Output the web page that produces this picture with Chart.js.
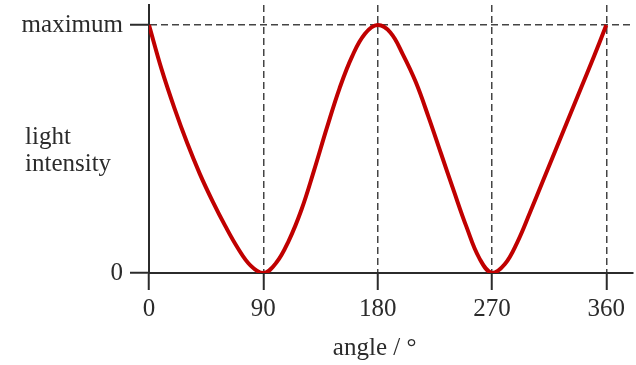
<!DOCTYPE html>
<html>
<head>
<meta charset="utf-8">
<script src="https://cdn.jsdelivr.net/npm/chart.js@4.4.1/dist/chart.umd.min.js"></script>
<style>
	html, body { margin: 0; padding: 0; background: #fff; }
	#wrap { width: 636px; height: 365px; position: relative; }
</style>
</head>
<body>
<div id="wrap"><canvas id="chart"></canvas></div>
<script>
	'use strict';

	// angle in degrees, intensity (1 = maximum)
	var angles = [0, 10, 20, 30, 40, 50, 60, 70, 80, 90,
		100, 110, 120, 130, 140, 150, 160, 170, 180,
		190, 200, 210, 220, 230, 240, 250, 260, 270,
		280, 290, 300, 310, 320, 330, 340, 350, 360];
	var intensity = [1.00, 0.82, 0.665, 0.525, 0.40, 0.29, 0.19, 0.10, 0.03, 0.00,
		0.04, 0.13, 0.255, 0.415, 0.585, 0.745, 0.875, 0.965, 1.00,
		0.97, 0.88, 0.77, 0.63, 0.48, 0.33, 0.185, 0.06, 0.00,
		0.035, 0.125, 0.245, 0.37, 0.495, 0.62, 0.745, 0.87, 1.00];
	var xTicks = [0, 90, 180, 270, 360];
	var yTicks = [0, 1];
	var yTickLabels = ['0', 'maximum'];
	var yLabelLines = ['light', 'intensity'];
	var xTitle = 'angle / \u00b0';

	var ink = '#2b2b2b';
	var dashInk = '#444';
	var serif = '"Liberation Serif", "Times New Roman", serif';

	var points = [];
	angles.forEach(function (a, i) {
		points.push({ x: a, y: intensity[i] });
	});

	var textLabels = {
		id: 'textLabels',
		afterDraw: function (chart) {
			var ctx = chart.ctx;
			var xs = chart.scales.x;
			ctx.save();
			ctx.fillStyle = ink;
			ctx.font = '25px ' + serif;
			ctx.textAlign = 'left';
			ctx.textBaseline = 'alphabetic';
			ctx.fillText(yLabelLines[0], 25, 144);
			ctx.fillText(yLabelLines[1], 25, 171);
			ctx.textAlign = 'center';
			ctx.fillText(xTitle, xs.getPixelForValue(180) - 3, 355);
			ctx.restore();
		}
	};

	function noEdgePadding(scale) {
		scale.paddingTop = 0;
		scale.paddingBottom = 0;
		scale.paddingLeft = 0;
		scale.paddingRight = 0;
	}

	new Chart(document.getElementById('chart'), {
		type: 'line',
		data: {
			datasets: [{
				data: points,
				borderColor: '#c00000',
				borderWidth: 4,
				pointRadius: 0,
				tension: 0.4,
				fill: false
			}]
		},
		options: {
			responsive: true,
			maintainAspectRatio: false,
			animation: false,
			layout: { padding: { top: 5, right: 3, left: 0, bottom: 0 } },
			plugins: {
				legend: { display: false },
				tooltip: { enabled: false }
			},
			scales: {
				x: {
					type: 'linear',
					min: 0,
					max: 381,
					afterBuildTicks: function (scale) {
						scale.ticks = xTicks.map(function (v) { return { value: v }; });
					},
					afterFit: function (scale) {
						scale.height = 92;
						noEdgePadding(scale);
					},
					border: { display: true, color: ink, width: 2, dash: [7, 4] },
					grid: {
						drawOnChartArea: true,
						color: function (c) {
							return c.tick && c.tick.value === 0 ? 'rgba(0,0,0,0)' : dashInk;
						},
						lineWidth: 1.5,
						tickLength: 17,
						tickColor: ink,
						tickWidth: 2,
						tickBorderDash: []
					},
					ticks: {
						color: ink,
						font: { family: serif, size: 25 },
						padding: 4,
						maxRotation: 0,
						autoSkip: false
					}
				},
				y: {
					type: 'linear',
					min: 0,
					max: 1.081,
					afterBuildTicks: function (scale) {
						scale.ticks = yTicks.map(function (v) { return { value: v }; });
					},
					afterFit: function (scale) {
						scale.width = 149;
						noEdgePadding(scale);
					},
					border: { display: true, color: ink, width: 2, dash: [7, 4] },
					grid: {
						color: function (c) {
							return c.tick && c.tick.value === 0 ? 'rgba(0,0,0,0)' : dashInk;
						},
						lineWidth: 1.5,
						tickLength: 19,
						tickColor: ink,
						tickWidth: 2,
						tickBorderDash: []
					},
					ticks: {
						color: ink,
						font: { family: serif, size: 25 },
						padding: 7,
						autoSkip: false,
						callback: function (value) {
							var i = yTicks.indexOf(value);
							return i >= 0 ? yTickLabels[i] : '';
						}
					}
				}
			}
		},
		plugins: [textLabels]
	});
</script>
</body>
</html>
